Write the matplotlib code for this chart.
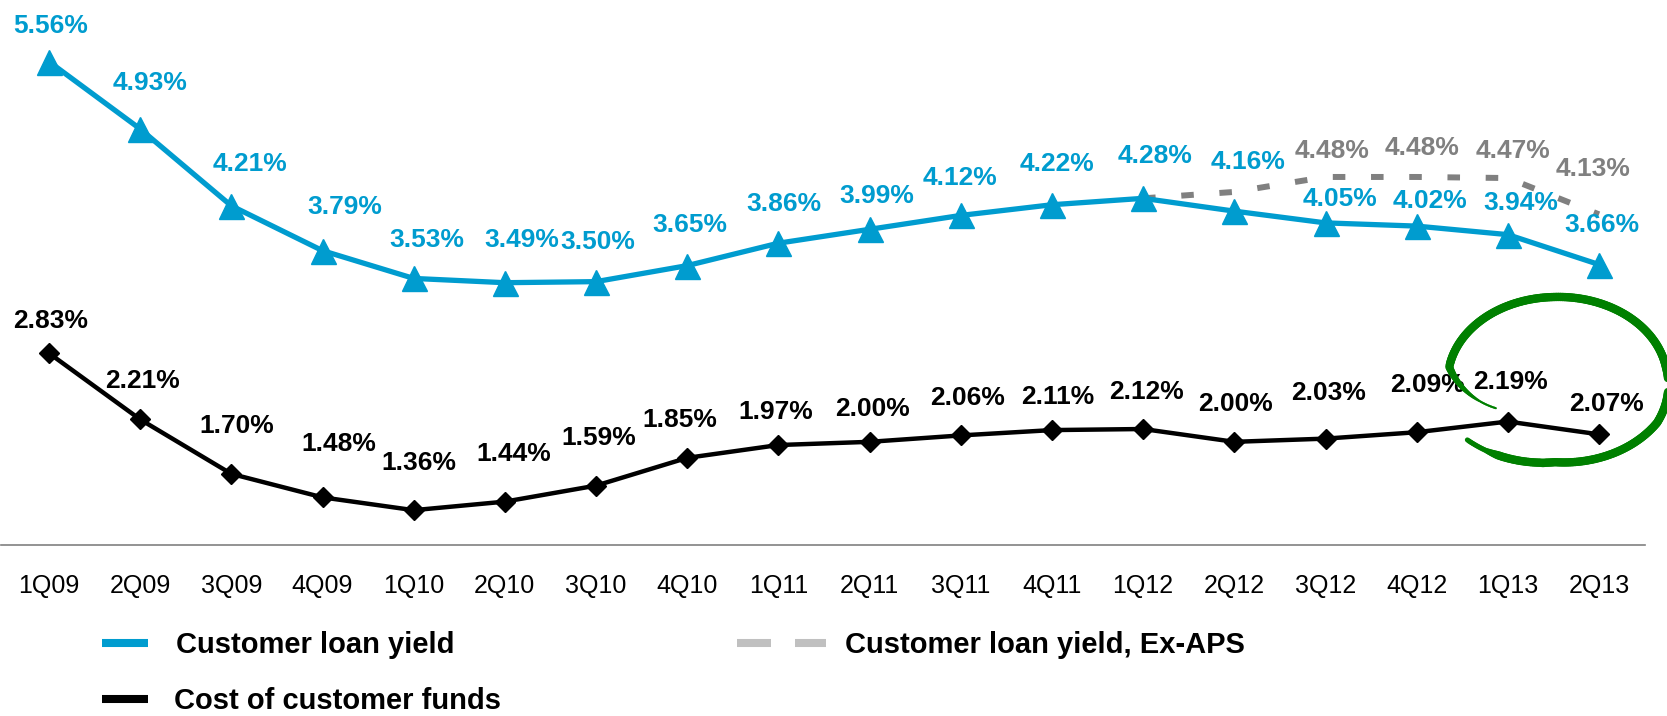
import numpy as np
import matplotlib
matplotlib.use("Agg")
import matplotlib.pyplot as plt
from matplotlib.lines import Line2D
from matplotlib.collections import LineCollection

plt.rcParams['font.family'] = ['Liberation Sans', 'DejaVu Sans']

# data
quarters = ['1Q09', '2Q09', '3Q09', '4Q09', '1Q10', '2Q10', '3Q10', '4Q10', '1Q11',
            '2Q11', '3Q11', '4Q11', '1Q12', '2Q12', '3Q12', '4Q12', '1Q13', '2Q13']
loan_yield = [5.56, 4.93, 4.21, 3.79, 3.53, 3.49, 3.50, 3.65, 3.86,
              3.99, 4.12, 4.22, 4.28, 4.16, 4.05, 4.02, 3.94, 3.66]
funds_cost = [2.83, 2.21, 1.70, 1.48, 1.36, 1.44, 1.59, 1.85, 1.97,
              2.00, 2.06, 2.11, 2.12, 2.00, 2.03, 2.09, 2.19, 2.07]
ex_aps_quarters = ['1Q12', '2Q12', '3Q12', '4Q12', '1Q13', '2Q13']
ex_aps_yield = [4.28, 4.34, 4.48, 4.48, 4.47, 4.13]
ex_aps_labelled = ['3Q12', '4Q12', '1Q13', '2Q13']

BLUE = '#009CCF'
GREY = '#808080'
LIGHT_GREY = '#C0C0C0'
GREEN = '#008000'

# label offsets in pixels (dx right, dy up) from each point
blue_off = [(2, 38), (10, 48), (19, 44), (22, 46), (13, 41), (17, 45), (2, 42), (3, 43), (5, 42),
            (7, 36), (-1, 40), (5, 43), (12, 45), (14, 52), (14, 26), (13, 28), (13, 34), (3, 42)]
black_off = [(2, 35), (2, 41), (5, 50), (16, 56), (5, 50), (9, 50), (3, 50), (-7, 40), (-3, 35),
             (3, 35), (7, 40), (6, 36), (3, 39), (1, 40), (3, 48), (11, 50), (3, 42), (7, 33)]
grey_off = [(7, 28), (5, 31), (5, 29), (-6, 48)]

W, H = 1667, 716
fig = plt.figure(figsize=(W / 100, H / 100), dpi=100)
ax = fig.add_axes([1 / W, (H - 545) / H, 1644 / W, 545 / H])

x = np.arange(len(quarters))
xg = [quarters.index(q) for q in ex_aps_quarters]

ax.plot(xg, ex_aps_yield, color=GREY, lw=4.3, dashes=(2.1, 4.3),
        dash_capstyle='butt', zorder=2, clip_on=False)
ax.plot(x, loan_yield, color=BLUE, lw=3.8, marker='^', ms=18, zorder=3, clip_on=False)
ax.plot(x, funds_cost, color='black', lw=3.2, marker='D', ms=10, zorder=3, clip_on=False)

px = 72 / 100   # pixels -> points
LABEL_FS = 19
cap_half = 0.716 * LABEL_FS / px / 2


def put_labels(xs, vals, offs, color):
    for xi, v, (dx, dy) in zip(xs, vals, offs):
        ax.annotate(f'{v:.2f}%', (xi, v), xytext=(dx * px, (dy - cap_half) * px),
                    textcoords='offset points', ha='center', va='baseline',
                    fontsize=LABEL_FS, fontweight='bold', color=color,
                    annotation_clip=False, zorder=5)


put_labels(x, loan_yield, blue_off, BLUE)
put_labels(x, funds_cost, black_off, 'black')
lab_idx = [ex_aps_quarters.index(q) for q in ex_aps_labelled]
put_labels([xg[i] for i in lab_idx], [ex_aps_yield[i] for i in lab_idx], grey_off, GREY)

ax.set_xlim(-0.526, 17.504)
ax.set_ylim(1.034, 6.137)
ax.set_xticks(x)
ax.set_xticklabels(quarters, fontsize=18)
ax.set_yticks([])
ax.tick_params(axis='x', length=0, pad=21)
for s in ['top', 'right', 'left']:
    ax.spines[s].set_visible(False)
ax.spines['bottom'].set_color(GREY)
ax.spines['bottom'].set_linewidth(1.2)


# legend drawn by hand in figure pixels
def fx(v):
    return v / W


def fy(v):
    return 1 - v / H


LEG_FS = 21
leg_cap = 0.716 * LEG_FS / px / 2
row1, row2 = 643, 699
fig.add_artist(Line2D([fx(102), fx(148)], [fy(row1), fy(row1)], color=BLUE, lw=5.8,
                      solid_capstyle='butt'))
fig.add_artist(Line2D([fx(102), fx(148)], [fy(row2), fy(row2)], color='black', lw=5.8,
                      solid_capstyle='butt'))
fig.add_artist(Line2D([fx(737), fx(826)], [fy(row1), fy(row1)], color=LIGHT_GREY, lw=5.8,
                      dashes=(34 * px / 5.8, 24 * px / 5.8), dash_capstyle='butt'))
fig.text(fx(176), fy(row1 + leg_cap), 'Customer loan yield', fontsize=LEG_FS,
         fontweight='bold', va='baseline', ha='left')
fig.text(fx(845), fy(row1 + leg_cap), 'Customer loan yield, Ex-APS', fontsize=LEG_FS,
         fontweight='bold', va='baseline', ha='left')
fig.text(fx(174), fy(row2 + leg_cap), 'Cost of customer funds', fontsize=LEG_FS,
         fontweight='bold', va='baseline', ha='left')

# hand-drawn green loop around the last two quarters
cx, cy, rx, ry = 1557, 380, 108, 83
ang = np.radians(np.linspace(211, -139, 300))
r = np.interp(np.degrees(ang)[::-1], [-139, -91, -29, 9, 93, 171, 211],
              [1.10, 0.99, 1.06, 1.02, 1.0, 1.01, 0.66])[::-1]
gx = cx + rx * r * np.cos(ang)
gy = cy - ry * r * np.sin(ang)
pts = np.column_stack([fx(gx), fy(gy)])
segs = np.stack([pts[:-1], pts[1:]], axis=1)
t = np.linspace(0, 1, len(segs))
widths = 6.0 * np.clip(np.minimum(t / 0.12, 1), 0.25, 1) * np.clip((1 - t) / 0.05, 0.6, 1)
lc = LineCollection(segs, linewidths=widths, colors=GREEN, capstyle='round',
                    transform=fig.transFigure)
fig.add_artist(lc)

fig.savefig('out.png', dpi=100)
